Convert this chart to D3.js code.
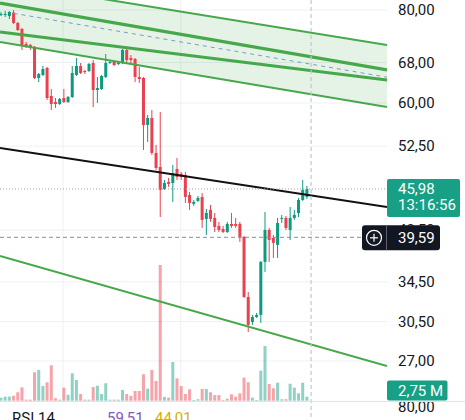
<!DOCTYPE html>
<html><head><meta charset="utf-8">
<script src="https://cdn.jsdelivr.net/npm/d3@7"></script>
<style>
html,body{margin:0;padding:0;background:#fff;overflow:hidden;}
svg{display:block;font-family:Roboto,"Noto Sans",sans-serif;}
</style></head><body>
<svg id="c" width="465" height="420"></svg>
<script>
// ---------- DATA ----------
const open = [78.77,78.77,78.53,79.38,76.85,75.43,72.01,71.79,71.35,64.82,
  65.43,66.86,61.31,60.18,59.81,60.93,60.18,61.12,65.43,67.27,
  66.24,66.24,67.90,62.46,62.65,65.02,67.90,68.11,67.69,67.90,
  70.69,68.96,68.75,65.02,64.82,56.05,57.28,51.40,49.22,45.98,
  46.99,46.84,48.92,48.17,48.02,45.14,43.90,44.31,44.86,41.91,
  43.09,42.04,41.01,40.63,40.25,41.26,41.26,41.26,39.64,32.92,
  30.47,30.94,31.14,36.69,40.50,39.51,38.67,41.91,42.04,40.50,
  42.04,42.69,44.44,44.86];
const high = [79.51,79.75,79.75,80.00,77.08,75.67,72.46,72.01,71.57,65.83,
  67.27,67.07,62.65,60.93,60.93,62.65,61.31,67.27,68.96,67.90,
  66.45,67.90,68.53,65.02,65.43,69.82,68.53,68.32,68.11,70.91,
  71.35,69.60,68.96,67.07,65.02,57.81,58.71,52.69,58.35,47.28,
  47.57,49.53,50.61,48.46,48.46,45.56,44.44,45.00,45.42,43.22,
  43.76,42.69,41.52,41.01,41.52,42.69,42.04,41.52,39.76,33.43,
  31.14,31.33,36.80,42.82,40.76,39.88,42.04,42.43,42.30,43.49,
  43.09,44.72,47.28,46.41];
const low = [78.53,78.29,77.80,76.61,74.97,70.69,71.13,70.69,64.62,64.02,
  65.22,60.56,58.71,59.08,59.63,60.00,60.00,60.93,65.22,65.63,
  65.63,66.04,59.26,60.00,62.46,64.82,67.69,67.27,67.48,67.69,
  67.69,67.90,64.02,63.83,51.88,53.18,51.08,48.77,42.16,45.84,
  46.27,44.17,47.28,47.28,44.03,43.09,43.63,44.17,40.76,39.88,
  41.52,40.25,40.25,40.13,40.13,40.76,40.76,39.03,32.82,29.54,
  30.19,30.85,30.38,35.57,36.69,37.14,37.14,41.39,40.50,39.27,
  41.78,42.16,44.31,44.58];
const close = [79.02,79.02,79.51,76.85,75.20,71.57,71.57,71.13,64.82,65.63,
  66.65,60.93,59.81,59.81,60.74,60.18,61.12,65.83,67.27,65.83,
  66.04,67.69,62.46,62.85,65.22,67.90,68.11,67.48,67.90,70.69,
  68.53,68.53,65.02,64.62,56.05,57.28,51.40,49.07,45.84,46.84,
  46.70,48.31,47.72,47.72,44.86,44.03,44.17,44.72,41.78,42.69,
  41.91,40.88,40.50,40.25,41.26,41.01,41.01,39.64,32.92,30.19,
  30.94,31.14,36.69,40.50,39.27,38.91,41.39,42.04,40.76,42.04,
  42.43,44.44,45.84,45.98];
// volume, millions
const volume = [2.1,2.8,2.8,3.4,5.8,9.2,0.7,0.7,19.6,21.2,
  10.1,12.7,24.4,1.7,0.7,9.0,4.1,18.9,14.3,4.6,
  0.7,0.7,9.4,10.3,4.6,12.0,0.7,0.7,0.7,7.4,
  4.6,3.4,6.7,6.7,18.2,8.3,21.2,13.6,93.6,2.6,
  2.1,26.7,15.4,10.1,4.6,7.9,0.5,1.0,8.1,8.1,
  5.8,3.9,3.9,0.5,1.4,4.4,2.8,5.1,15.9,12.7,
  2.1,0.5,20.7,37.7,11.5,8.6,12.4,1.0,1.0,11.7,
  9.0,5.1,12.4,2.75];
const priceTicks = [80, 68, 60, 52.5, 40.5, 34.5, 30.5, 27];
const timeGrid = [14.8, 42.9];
// drawings: [barIndex, price]
const channelUpper = [[-0.24, 87.16], [92.11, 71.79]];
const channelInner1 = [[-0.24, 81.75], [92.11, 66.45]];
const channelInner2 = [[-0.24, 74.74], [92.11, 64.42]];
const channelLower = [[-0.24, 72.46], [92.11, 59.26]];
const channelMid = [[3, 79.19], [92.11, 64.98]];
const blackTrend = [[-0.24, 52.20], [92.11, 43.49]];
const greenTrend = [[-0.24, 37.37], [92.11, 26.59]];
const lastPrice = 45.98, countdown = "13:16:56";
const crossIdx = 74, crossPrice = 39.59;
const volLabel = "2,75 M";
const rsiName = "RSI 14", rsiValues = ["59,51", "44,01"], rsiTick = "80,00";

// ---------- LAYOUT ----------
const plotRight = 387, paneBottom = 401;
const UP = "#0e9a7f", DOWN = "#e8424f", TEAL = "#17a085";
const x = d3.scaleLinear().domain([0, 73]).range([1, 306.9]);
const y = d3.scaleLog().domain([80, 27]).range([10, 361]);
const yv = d3.scaleLinear().domain([0, 100]).range([400.7, 255.7]);
const fmt = d => d.toFixed(2).replace(".", ",");

const svg = d3.select("#c");
const defs = svg.append("defs");
defs.append("clipPath").attr("id", "plot").append("rect")
  .attr("x", 0).attr("y", 0).attr("width", plotRight).attr("height", paneBottom);
defs.append("clipPath").attr("id", "rsi").append("rect")
  .attr("x", 0).attr("y", 402).attr("width", 465).attr("height", 20);

const g = svg.append("g").attr("clip-path", "url(#plot)");

// grid
g.selectAll(".hg").data(priceTicks).enter().append("line")
  .attr("x1", 0).attr("x2", plotRight)
  .attr("y1", d => y(d)).attr("y2", d => y(d))
  .attr("stroke", "#eef0f4").attr("stroke-width", 1);
g.selectAll(".vg").data(timeGrid).enter().append("line")
  .attr("x1", d => x(d)).attr("x2", d => x(d))
  .attr("y1", 0).attr("y2", paneBottom)
  .attr("stroke", "#eef0f4").attr("stroke-width", 1);

const lineGen = d3.line().x(d => x(d[0])).y(d => y(d[1]));

// channel fill
const band = channelUpper.concat(channelLower.slice().reverse());
g.append("path").attr("d", lineGen(band) + "Z")
  .attr("fill", "rgba(76,175,80,0.15)");

// volume
const idx = open.map((d, i) => i);
g.selectAll(".vol").data(idx).enter().append("rect")
  .attr("x", i => x(i) - 1.5).attr("width", 3)
  .attr("y", i => yv(volume[i])).attr("height", i => yv(0) - yv(volume[i]))
  .attr("fill", i => close[i] >= open[i] ? "rgba(8,153,129,0.45)" : "rgba(235,60,72,0.47)");

// candles
const cg = g.selectAll(".cdl").data(idx).enter().append("g");
cg.append("line")
  .attr("x1", i => x(i)).attr("x2", i => x(i))
  .attr("y1", i => y(high[i])).attr("y2", i => y(low[i]))
  .attr("stroke", i => close[i] >= open[i] ? UP : DOWN).attr("stroke-width", 1);
cg.append("rect")
  .attr("x", i => x(i) - 1.5).attr("width", 3)
  .attr("y", i => Math.min(y(open[i]), y(close[i])))
  .attr("height", i => Math.max(1, Math.abs(y(open[i]) - y(close[i]))))
  .attr("fill", i => close[i] >= open[i] ? UP : DOWN);

// drawings
const GREEN = "#46a84a";
[[channelUpper, 2], [channelInner1, 3.2], [channelInner2, 3.2], [channelLower, 2]].forEach(([pts, w]) => {
  g.append("path").attr("d", lineGen(pts)).attr("fill", "none")
    .attr("stroke", GREEN).attr("stroke-width", w);
});
g.append("path").attr("d", lineGen(channelMid)).attr("fill", "none")
  .attr("stroke", "#7b9cc9").attr("stroke-width", 1).attr("stroke-dasharray", "4,4");
g.append("path").attr("d", lineGen(blackTrend)).attr("fill", "none")
  .attr("stroke", "#111").attr("stroke-width", 2);
g.append("path").attr("d", lineGen(greenTrend)).attr("fill", "none")
  .attr("stroke", GREEN).attr("stroke-width", 2);

// last price line
g.append("line").attr("x1", 0).attr("x2", plotRight)
  .attr("y1", y(lastPrice)).attr("y2", y(lastPrice))
  .attr("stroke", "#9ea4ab").attr("stroke-width", 1).attr("stroke-dasharray", "1,2");

// crosshair
svg.append("line").attr("x1", 0).attr("x2", 362)
  .attr("y1", y(crossPrice)).attr("y2", y(crossPrice))
  .attr("stroke", "#8a8d96").attr("stroke-width", 1).attr("stroke-dasharray", "4,3");
svg.append("line").attr("x1", x(crossIdx)).attr("x2", x(crossIdx))
  .attr("y1", 0).attr("y2", 420)
  .attr("stroke", "#c4c7ce").attr("stroke-width", 1.2).attr("stroke-dasharray", "4,3");

// RSI pane separator
svg.append("line").attr("x1", 0).attr("x2", 465).attr("y1", 401.5).attr("y2", 401.5)
  .attr("stroke", "#e0e3eb").attr("stroke-width", 1);

// price axis
const axis = d3.axisRight(y).tickValues(priceTicks).tickFormat(fmt).tickSize(0).tickPadding(11);
const ag = svg.append("g").attr("transform", `translate(${plotRight},0)`).call(axis);
ag.select(".domain").remove();
ag.selectAll("text").attr("font-size", 15).attr("font-family", "Roboto").attr("fill", "#131722");

// last price label
const ly = y(lastPrice);
svg.append("rect").attr("x", plotRight).attr("y", ly - 10).attr("width", 73).attr("height", 38)
  .attr("rx", 2).attr("fill", TEAL);
svg.append("text").attr("x", 398).attr("y", ly).attr("dy", "0.35em")
  .attr("font-size", 15).attr("fill", "#fff").text(fmt(lastPrice));
svg.append("text").attr("x", 398).attr("y", ly + 16).attr("dy", "0.35em")
  .attr("font-size", 15).attr("fill", "#fff").text(countdown);

// crosshair label
const cy = y(crossPrice);
svg.append("rect").attr("x", 362).attr("y", cy - 12).attr("width", 78).attr("height", 25)
  .attr("rx", 3).attr("fill", "#131722");
svg.append("circle").attr("cx", 374).attr("cy", cy + 0.5).attr("r", 7.5)
  .attr("fill", "none").attr("stroke", "#fff").attr("stroke-width", 1.2);
svg.append("line").attr("x1", 370).attr("x2", 378).attr("y1", cy + 0.5).attr("y2", cy + 0.5)
  .attr("stroke", "#fff").attr("stroke-width", 1.2);
svg.append("line").attr("x1", 374).attr("x2", 374).attr("y1", cy - 3.5).attr("y2", cy + 4.5)
  .attr("stroke", "#fff").attr("stroke-width", 1.2);
svg.append("line").attr("x1", 386.5).attr("x2", 386.5).attr("y1", cy - 12).attr("y2", cy + 13)
  .attr("stroke", "#5d606b").attr("stroke-width", 1);
svg.append("text").attr("x", 398).attr("y", cy + 0.5).attr("dy", "0.35em")
  .attr("font-size", 15).attr("fill", "#fff").text(fmt(crossPrice));

// volume label
const vTop = Math.min(yv(volume[volume.length - 1]) - 10, paneBottom - 20.5);
svg.append("rect").attr("x", plotRight).attr("y", vTop).attr("width", 60.5).attr("height", 20)
  .attr("rx", 2).attr("fill", TEAL);
svg.append("text").attr("x", 398).attr("y", vTop + 10).attr("dy", "0.35em")
  .attr("font-size", 15).attr("fill", "#fff").text(volLabel);

// RSI pane (cut off)
const rg = svg.append("g").attr("clip-path", "url(#rsi)");
rg.append("text").attr("x", 398).attr("y", 406.5).attr("dy", "0.35em")
  .attr("font-size", 15).attr("fill", "#131722").text(rsiTick);
rg.append("text").attr("x", 12).attr("y", 422.7).attr("font-size", 15).attr("fill", "#131722").text(rsiName);
rg.append("text").attr("x", 107).attr("y", 422.7).attr("font-size", 15).attr("fill", "#7e57c2").text(rsiValues[0]);
rg.append("text").attr("x", 155).attr("y", 422.7).attr("font-size", 15).attr("fill", "#d4b000").text(rsiValues[1]);
</script>
</body></html>
